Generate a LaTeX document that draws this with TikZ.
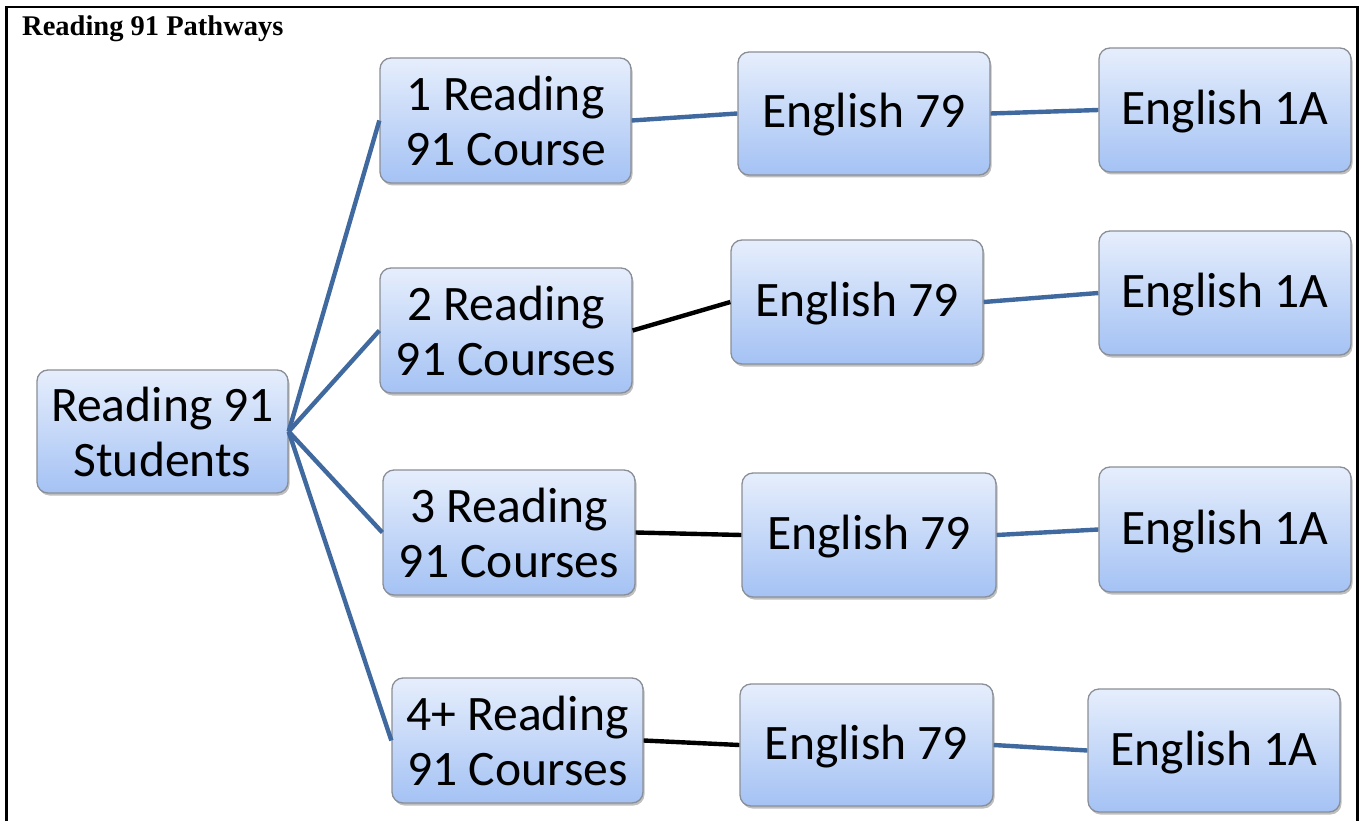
\documentclass[tikz,border=0pt]{standalone}
\usepackage{fontspec}
\setmainfont{Carlito}
\newfontfamily\titlefont{Liberation Serif}
\usetikzlibrary{shadows}
\definecolor{linkblue}{HTML}{4069A0}
\definecolor{boxtop}{HTML}{E6EEFC}
\definecolor{boxbot}{HTML}{A4C2F4}
\definecolor{boxedge}{HTML}{8A8E96}
\tikzset{
  box/.style={draw=boxedge, line width=1.3pt, rounded corners=11pt,
    top color=boxtop, bottom color=boxbot, align=center,
    inner sep=0pt, font=\fontsize{49.6}{55}\selectfont,
    drop shadow={shadow xshift=1.5pt, shadow yshift=-2.5pt, opacity=0.25, fill=black}},
  oneline/.style={text height=39pt, text depth=10pt},
  bluelink/.style={draw=linkblue, line width=4.4pt},
  blacklink/.style={draw=black, line width=4.4pt},
}
\begin{document}
\begin{tikzpicture}[x=1pt,y=-1pt]
\useasboundingbox (0,0) rectangle (1362,821);
\fill[white] (0,0) rectangle (1362,821);
% frame
\draw[line width=2.6pt] (6.5,821) -- (6.5,7) -- (1357.5,7) -- (1357.5,821);
\node[anchor=base west, inner sep=0pt, font=\titlefont\bfseries\fontsize{28.5}{30}\selectfont] (title) at (22,35.5) {Reading 91 Pathways};
% boxes
\node[box, minimum width=251pt, minimum height=123pt] (S) at (162.5,431.5) {Reading 91\\Students};
\node[box, minimum width=251pt, minimum height=125pt] (R1) at (505.5,120.5) {1 Reading\\91 Course};
\node[box, minimum width=252pt, minimum height=125pt] (R2) at (506,330.5) {2 Reading\\91 Courses};
\node[box, minimum width=252pt, minimum height=125pt] (R3) at (509,532.5) {3 Reading\\91 Courses};
\node[box, minimum width=251pt, minimum height=125pt] (R4) at (517.5,740.5) {4+ Reading\\91 Courses};
\node[box, oneline, minimum width=252pt, minimum height=123pt] (E1) at (864,113.5) {English 79};
\node[box, oneline, minimum width=252pt, minimum height=124pt] (E2) at (857,302) {English 79};
\node[box, oneline, minimum width=254pt, minimum height=124pt] (E3) at (869,535) {English 79};
\node[box, oneline, minimum width=253pt, minimum height=122pt] (E4) at (866.5,745) {English 79};
\node[box, oneline, minimum width=252pt, minimum height=124pt] (A1) at (1225,110) {English 1A};
\node[box, oneline, minimum width=252pt, minimum height=124pt] (A2) at (1225,293) {English 1A};
\node[box, oneline, minimum width=252pt, minimum height=125pt] (A3) at (1225,529.5) {English 1A};
\node[box, oneline, minimum width=252pt, minimum height=123pt] (A4) at (1214,750.5) {English 1A};
% connectors
\draw[bluelink] (S.east) -- (R1.west);
\draw[bluelink] (S.east) -- (R2.west);
\draw[bluelink] (S.east) -- (R3.west);
\draw[bluelink] (S.east) -- (R4.west);
\draw[bluelink] (R1.east) -- (E1.west);
\draw[blacklink] (R2.east) -- (E2.west);
\draw[blacklink] (R3.east) -- (E3.west);
\draw[blacklink] (R4.east) -- (E4.west);
\draw[bluelink] (E1.east) -- (A1.west);
\draw[bluelink] (E2.east) -- (A2.west);
\draw[bluelink] (E3.east) -- (A3.west);
\draw[bluelink] (E4.east) -- (A4.west);
\end{tikzpicture}
\end{document}
